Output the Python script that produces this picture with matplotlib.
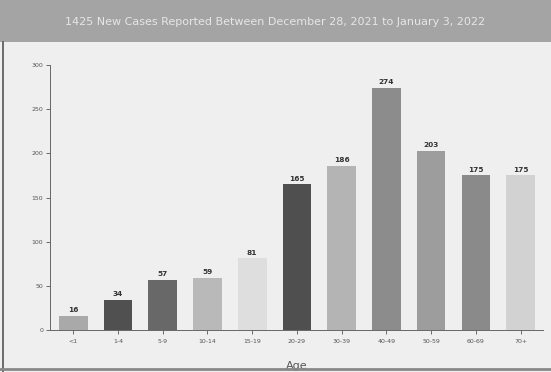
import matplotlib.pyplot as plt

ages = ["<1", "1-4", "5-9", "10-14", "15-19", "20-29", "30-39",
        "40-49", "50-59", "60-69", "70+"]
cases = [16, 34, 57, 59, 81, 165, 186, 274, 203, 175, 175]
bar_colors = ["#a9a9a9", "#505050", "#686868", "#b9b9b9", "#dedede", "#4f4f4f",
              "#b4b4b4", "#8c8c8c", "#9d9d9d", "#8a8a8a", "#d2d2d2"]
title = "1425 New Cases Reported Between December 28, 2021 to January 3, 2022"

fig = plt.figure(figsize=(5.51, 3.72), dpi=100)
fig.patch.set_facecolor("#efefef")

# grey title banner across the top
banner = fig.add_axes([0, 1 - 42 / 372, 1, 42 / 372])
banner.set_facecolor("#a4a4a4")
banner.set_xticks([])
banner.set_yticks([])
for s in banner.spines.values():
    s.set_visible(False)
banner.text(0.5, 0.48, title, color="#e6e6e6", fontsize=8, ha="center", va="center",
            transform=banner.transAxes)

ax = fig.add_axes([50 / 551, 42 / 372, 493 / 551, 265 / 372])
ax.set_facecolor("#efefef")
x = range(len(ages))
bars = ax.bar(x, cases, width=0.64, color=bar_colors)
for xi, v in zip(x, cases):
    ax.text(xi, v + 3, str(v), ha="center", va="bottom", fontsize=5.3,
            fontweight="bold", color="#333333")

ax.set_xlim(-0.52, 10.5)
ax.set_ylim(0, 300)
ax.set_yticks(range(0, 301, 50))
ax.set_xticks(list(x))
ax.set_xticklabels(ages)
ax.tick_params(axis="both", labelsize=4.5, colors="#555555", length=3, width=0.6)
ax.tick_params(axis="y", pad=2)
ax.spines["top"].set_visible(False)
ax.spines["right"].set_visible(False)
ax.spines["left"].set_color("#666666")
ax.spines["bottom"].set_color("#666666")
ax.spines["left"].set_linewidth(0.7)
ax.spines["bottom"].set_linewidth(0.7)
ax.set_xlabel("Age", fontsize=8, color="#555555", labelpad=12)

# thin dark frame line at left edge and bottom band
fig.add_artist(plt.Line2D([3 / 551, 3 / 551], [0, 1 - 42 / 372], color="#555555", lw=1.2))
fig.add_artist(plt.Line2D([0, 1], [3 / 372, 3 / 372], color="#888888", lw=2))

fig.savefig("out.png", dpi=100, facecolor=fig.get_facecolor())
